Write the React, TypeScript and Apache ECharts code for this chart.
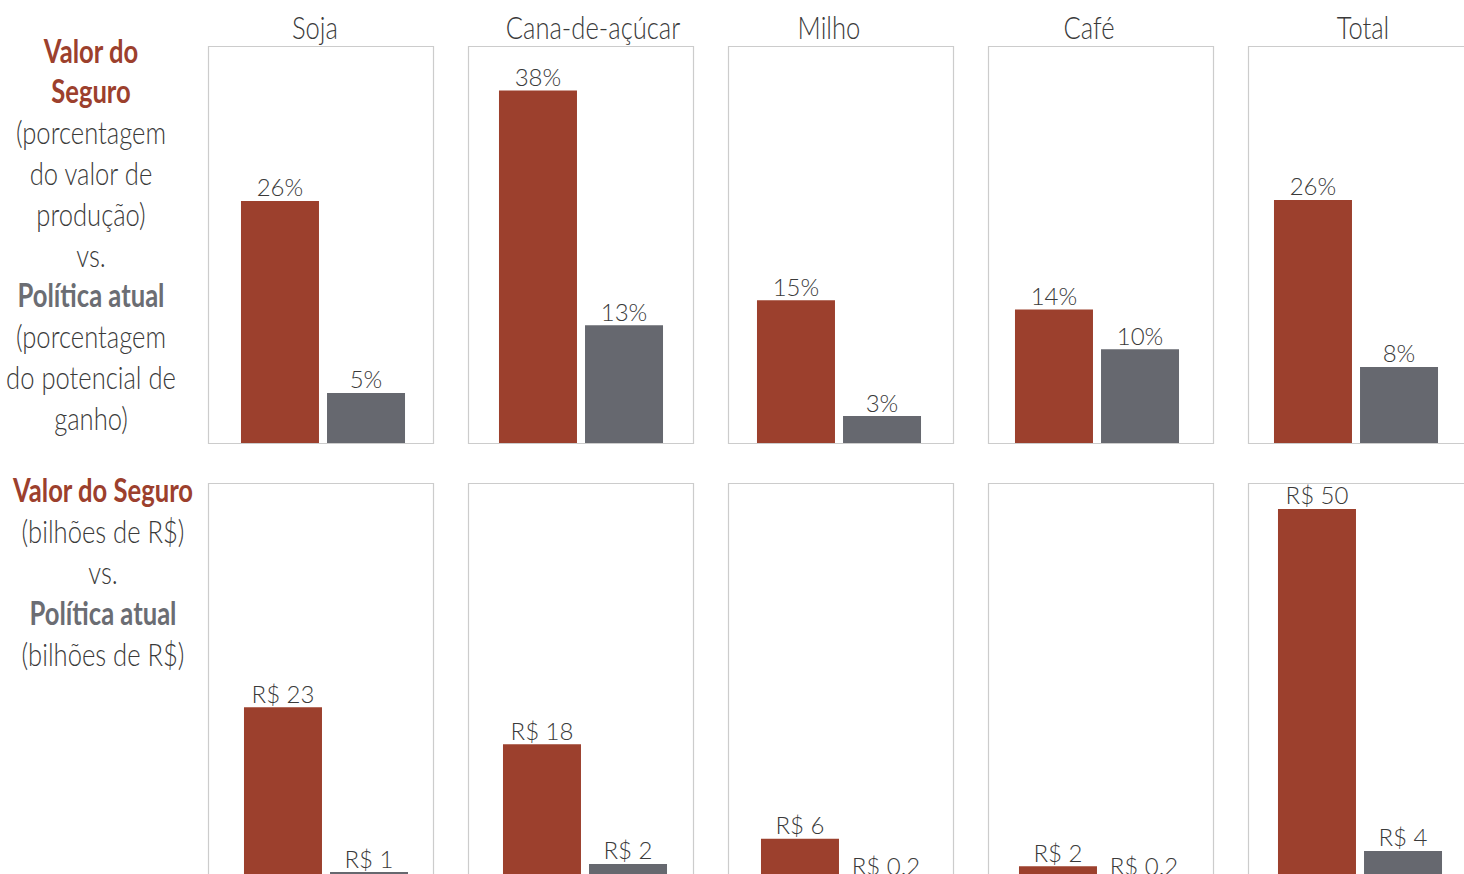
import React, { useEffect, useRef } from "react";
import * as echarts from "echarts";

const crops = ["Soja", "Cana-de-açúcar", "Milho", "Café", "Total"];
// Top row: percentage of production value (Valor do Seguro) vs current policy (Política atual)
const pctSeguro = [26.1, 38, 15.4, 14.4, 26.2];
const pctPolitica = [5.4, 12.7, 2.9, 10.1, 8.2];
// Bottom row: billions of R$
const bilSeguro = [23.4, 18.4, 5.7, 2.0, 50.1];
const bilPolitica = [1.2, 2.3, 0.2, 0.2, 4.05];

const RED = "#9c402d";
const GRAY = "#66686f";
const TEXT = "#3a3a3a";
const FONT = "Lato, 'Open Sans', sans-serif";
const SX = 0.8;

const topLines: [string, string][] = [
  ["Valor do", "red"],
  ["Seguro", "red"],
  ["(porcentagem", "n"],
  ["do valor de", "n"],
  ["produção)", "n"],
  ["vs.", "n"],
  ["Política atual", "gray"],
  ["(porcentagem", "n"],
  ["do potencial de", "n"],
  ["ganho)", "n"],
];
const bottomLines: [string, string][] = [
  ["Valor do Seguro", "red"],
  ["(bilhões de R$)", "n"],
  ["vs.", "n"],
  ["Política atual", "gray"],
  ["(bilhões de R$)", "n"],
];

const titleX = [315, 593, 829, 1089, 1363];
const topCenters = [323, 581, 839, 1097, 1356];
const bottomCenters = [326, 585, 843, 1101, 1360];

function pctFmt(v: number) {
  return Math.round(v) + "%";
}
function brlFmt(v: number) {
  return "R$ " + (v >= 1 ? String(Math.round(v)) : v.toFixed(1));
}

export default function App() {
  const ref = useRef<HTMLDivElement>(null);
  useEffect(() => {
    if (!ref.current) return;
    const chart = echarts.init(ref.current, undefined, { renderer: "svg" });
    const grids: any[] = [];
    const xAxes: any[] = [];
    const yAxes: any[] = [];
    const series: any[] = [];
    const graphics: any[] = [];

    const rows = [
      { centers: topCenters, top: 46, height: 397, max: 42.8, a: pctSeguro, b: pctPolitica, fmt: pctFmt },
      { centers: bottomCenters, top: 483, height: 398, max: 53.6, a: bilSeguro, b: bilPolitica, fmt: brlFmt },
    ];
    rows.forEach((row, r) => {
      crops.forEach((c, i) => {
        const idx = grids.length;
        grids.push({ left: row.centers[i] - 112.5, top: row.top, width: 225, height: row.height, show: false });
        xAxes.push({ type: "category", data: [c], gridIndex: idx, show: false });
        yAxes.push({ type: "value", min: 0, max: row.max, gridIndex: idx, show: false });
        const lbl = {
          show: true,
          position: "top",
          distance: 2,
          fontFamily: FONT,
          fontWeight: 300,
          fontSize: 24,
          color: TEXT,
          formatter: (p: any) => row.fmt(p.value),
        };
        series.push({
          type: "bar",
          xAxisIndex: idx,
          yAxisIndex: idx,
          data: [row.a[i]],
          barWidth: 78,
          barGap: "10.3%",
          itemStyle: { color: RED },
          label: lbl,
        });
        series.push({
          type: "bar",
          xAxisIndex: idx,
          yAxisIndex: idx,
          data: [row.b[i]],
          barWidth: 78,
          barGap: "10.3%",
          itemStyle: { color: GRAY },
          label: lbl,
        });
        // panel frame
        graphics.push({
          type: "rect",
          z: -1,
          shape: { x: 208.5 + 260 * i, y: row.top + 0.5, width: 225, height: r === 0 ? row.height : 500 },
          style: { fill: "none", stroke: "#cccccc", lineWidth: 1.2 },
        });
      });
    });

    crops.forEach((c, i) => {
      graphics.push({
        type: "text",
        x: titleX[i],
        y: 26,
        scaleX: SX,
        style: {
          text: c,
          fontFamily: FONT,
          fontWeight: 300,
          fontSize: 32,
          fill: TEXT,
          textAlign: "center",
          textVerticalAlign: "middle",
        },
      });
    });

    const lineStyle = (kind: string) =>
      kind === "red"
        ? { fill: RED, fontWeight: "bold" }
        : kind === "gray"
        ? { fill: "#6b6d73", fontWeight: "bold" }
        : { fill: TEXT, fontWeight: 300 };

    topLines.forEach(([t, k], i) => {
      graphics.push({
        type: "text",
        x: 91,
        y: 50 + 40.8 * i,
        scaleX: SX,
        style: { text: t, fontFamily: FONT, fontSize: 32, textAlign: "center", textVerticalAlign: "middle", ...lineStyle(k) },
      });
    });
    bottomLines.forEach(([t, k], i) => {
      graphics.push({
        type: "text",
        x: 103,
        y: 489 + 41 * i,
        scaleX: SX,
        style: { text: t, fontFamily: FONT, fontSize: 32, textAlign: "center", textVerticalAlign: "middle", ...lineStyle(k) },
      });
    });

    chart.setOption({
      animation: false,
      backgroundColor: "#ffffff",
      grid: grids,
      xAxis: xAxes,
      yAxis: yAxes,
      series,
      graphic: graphics,
    });
    return () => chart.dispose();
  }, []);
  return <div ref={ref} style={{ position: "fixed", left: 0, top: 0, width: 1540, height: 940 }} />;
}
